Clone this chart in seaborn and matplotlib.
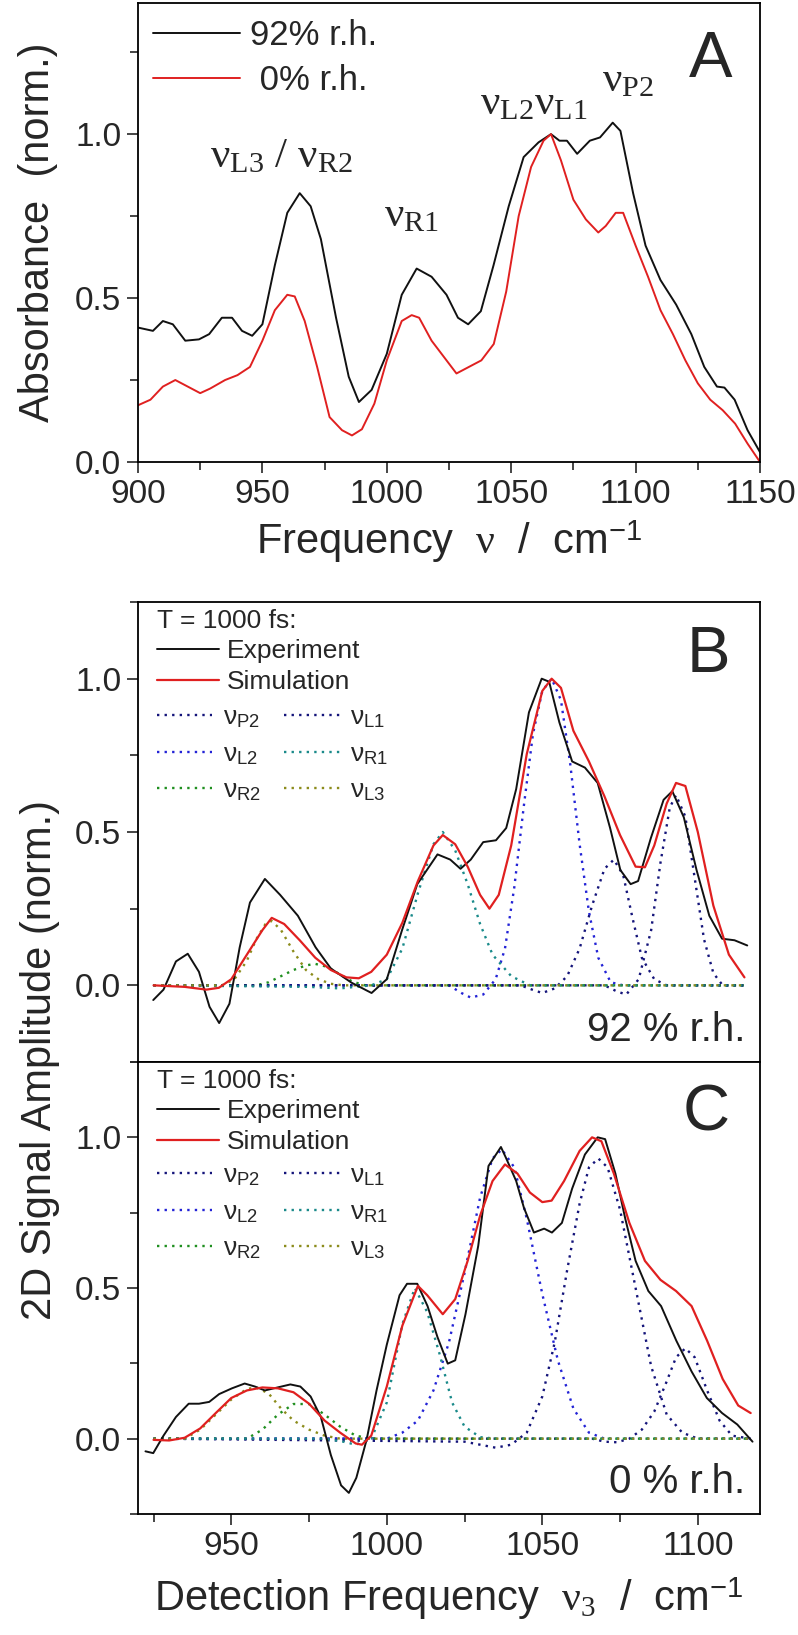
import numpy as np
import pandas as pd
import matplotlib
matplotlib.use('Agg')
import matplotlib.pyplot as plt
import seaborn as sns
from matplotlib.font_manager import FontProperties
from matplotlib.ticker import MultipleLocator

# ---------------- data: panel A (FTIR absorbance) ----------------
a_x_92 = [900, 906, 910, 914, 919, 924.5, 928.6, 933.7, 937.8, 941.8, 945.9, 950, 955, 960,
          965, 969.4, 973.5, 979.6, 984.7, 988.8, 993.9, 1000, 1006, 1012, 1018, 1024,
          1028.6, 1032.7, 1037.8, 1042.9, 1049, 1055, 1061, 1066, 1069.4, 1072.4, 1076.5,
          1081.6, 1085.7, 1090.8, 1093.9, 1099, 1104, 1110, 1116.3, 1122.4, 1127.6, 1132.7,
          1135.7, 1139.8, 1145, 1150]
a_y_92 = [0.41, 0.40, 0.43, 0.42, 0.37, 0.374, 0.39, 0.44, 0.44, 0.40, 0.385, 0.42, 0.60, 0.76,
          0.82, 0.78, 0.68, 0.44, 0.26, 0.183, 0.22, 0.33, 0.51, 0.59, 0.565, 0.51,
          0.44, 0.42, 0.46, 0.60, 0.78, 0.93, 0.975, 1.0, 0.98, 0.98, 0.94,
          0.98, 0.99, 1.035, 1.01, 0.82, 0.66, 0.555, 0.48, 0.39, 0.29, 0.23,
          0.227, 0.19, 0.097, 0.03]
a_x_0 = [900, 905, 910, 915, 920, 925, 929, 935, 940, 945, 950, 955, 960, 963, 967, 972, 977,
         982, 986, 990, 995, 1000, 1006, 1010, 1013, 1018, 1024, 1028, 1033, 1038, 1043,
         1048, 1053, 1058, 1063, 1066, 1070, 1075, 1080, 1085, 1088, 1092, 1095, 1100,
         1105, 1110, 1115, 1120, 1125, 1130, 1135, 1140, 1145, 1150]
a_y_0 = [0.173, 0.19, 0.23, 0.25, 0.23, 0.21, 0.224, 0.25, 0.265, 0.29, 0.37, 0.463, 0.51, 0.505,
         0.43, 0.29, 0.137, 0.097, 0.081, 0.10, 0.178, 0.31, 0.43, 0.448, 0.44, 0.37, 0.31,
         0.27, 0.29, 0.31, 0.36, 0.52, 0.75, 0.90, 0.98, 1.0, 0.92, 0.80, 0.74, 0.70, 0.72,
         0.76, 0.76, 0.66, 0.565, 0.463, 0.39, 0.31, 0.24, 0.19, 0.158, 0.117, 0.056, 0.0]

# ---------------- data: panel B (92 % r.h., T = 1000 fs) ----------------
b_x_exp = [924.9, 928.2, 932.2, 936, 939.6, 943, 946.1, 949.4, 952.7, 956, 960.8, 965.7, 971.4,
           977.1, 982, 988.6, 995.1, 1000, 1004.9, 1009.8, 1016.3, 1020.4, 1023.7, 1027, 1031,
           1035.1, 1038.4, 1041.6, 1045.7, 1049.8, 1052.2, 1055.5, 1059.6, 1063.7, 1067.8,
           1071.8, 1075.1, 1078.4, 1080.8, 1084.9, 1089, 1091.8, 1095.5, 1099.6, 1103.7,
           1107.8, 1111.8, 1115.9]
b_y_exp = [-0.048, -0.014, 0.078, 0.103, 0.044, -0.07, -0.123, -0.06, 0.124, 0.27, 0.347, 0.295,
           0.227, 0.124, 0.055, 0.009, -0.025, 0.02, 0.18, 0.33, 0.427, 0.41, 0.38, 0.41, 0.467,
           0.473, 0.513, 0.64, 0.89, 1.0, 0.99, 0.857, 0.73, 0.71, 0.66, 0.513, 0.376, 0.33,
           0.34, 0.48, 0.605, 0.633, 0.548, 0.376, 0.227, 0.152, 0.147, 0.13]
b_x_sim = [925, 935, 942, 946, 950, 955, 960, 963, 967, 972, 977, 982, 987, 991, 995, 1000, 1005,
           1010, 1015, 1018, 1022, 1026, 1030, 1033, 1036, 1040, 1045, 1050, 1053, 1056, 1060,
           1065, 1070, 1075, 1080, 1083, 1086, 1090, 1093, 1096, 1100, 1105, 1110, 1115]
b_y_sim = [0.0, -0.005, -0.014, -0.008, 0.02, 0.10, 0.18, 0.22, 0.20, 0.147, 0.09, 0.05, 0.026,
           0.023, 0.044, 0.10, 0.204, 0.34, 0.456, 0.49, 0.46, 0.387, 0.295, 0.25, 0.295,
           0.456, 0.754, 0.96, 1.0, 0.97, 0.83, 0.73, 0.616, 0.49, 0.387, 0.385, 0.456, 0.593,
           0.66, 0.65, 0.50, 0.26, 0.10, 0.026]
b_x_p2 = [925, 1070, 1074, 1077, 1081, 1085, 1088, 1091, 1093, 1096, 1099, 1102, 1105, 1108, 1115]
b_y_p2 = [0.0, 0.0, -0.02, -0.03, 0.02, 0.18, 0.40, 0.58, 0.62, 0.55, 0.35, 0.15, 0.04, 0.0, 0.0]
b_x_l1 = [925, 1043, 1047, 1050, 1054, 1058, 1062, 1066, 1070, 1073, 1076, 1079, 1082, 1086, 1090, 1115]
b_y_l1 = [0.0, 0.0, -0.015, -0.025, -0.01, 0.03, 0.12, 0.26, 0.38, 0.41, 0.36, 0.22, 0.09, 0.02, 0.0, 0.0]
b_x_l2 = [925, 1020, 1024, 1027, 1031, 1035, 1038, 1041, 1044, 1047, 1050, 1053, 1056, 1059,
          1062, 1065, 1068, 1072, 1076, 1115]
b_y_l2 = [0.0, 0.0, -0.025, -0.04, -0.03, 0.02, 0.12, 0.32, 0.58, 0.82, 0.96, 1.0, 0.93, 0.72,
          0.46, 0.24, 0.09, 0.01, 0.0, 0.0]
b_x_r1 = [925, 975, 985, 995, 1000, 1005, 1010, 1015, 1018, 1022, 1026, 1030, 1034, 1040, 1046, 1115]
b_y_r1 = [0.0, -0.005, -0.01, 0.0, 0.02, 0.12, 0.30, 0.46, 0.50, 0.44, 0.33, 0.20, 0.10, 0.03, 0.0, 0.0]
b_x_r2 = [925, 958, 962, 966, 970, 974, 977, 981, 985, 989, 993, 1115]
b_y_r2 = [0.0, 0.0, 0.01, 0.03, 0.05, 0.065, 0.07, 0.06, 0.035, 0.012, 0.0, 0.0]
b_x_l3 = [925, 947, 951, 955, 958, 961, 963, 966, 970, 974, 978, 982, 986, 1115]
b_y_l3 = [0.0, 0.0, 0.02, 0.08, 0.15, 0.20, 0.21, 0.18, 0.11, 0.05, 0.02, 0.005, 0.0, 0.0]

# ---------------- data: panel C (0 % r.h., T = 1000 fs) ----------------
c_x_exp = [922.4, 924.9, 928.2, 932.2, 936.3, 939.6, 942.9, 946.1, 950.2, 954.3, 957.6, 960.8,
           964.9, 969, 972.2, 975.5, 978.8, 982, 985.3, 987.8, 990.2, 993.5, 996.7, 1000,
           1004.1, 1006.5, 1009.8, 1013.1, 1016.3, 1019.6, 1022, 1025.3, 1029.4, 1032.7,
           1036.7, 1038.4, 1041.6, 1044.1, 1047.3, 1050.6, 1053.1, 1056.3, 1059.6, 1063.7,
           1067.8, 1070.2, 1073.5, 1076.7, 1080, 1084.1, 1088.2, 1093.1, 1098, 1102.9,
           1107.8, 1112.7, 1117.6]
c_y_exp = [-0.042, -0.048, 0.01, 0.072, 0.116, 0.116, 0.122, 0.148, 0.167, 0.183, 0.173, 0.16,
           0.17, 0.18, 0.173, 0.14, 0.072, -0.054, -0.155, -0.18, -0.13, -0.004, 0.16, 0.312,
           0.476, 0.514, 0.514, 0.44, 0.337, 0.249, 0.26, 0.413, 0.64, 0.905, 0.968, 0.93,
           0.855, 0.766, 0.684, 0.697, 0.684, 0.716, 0.83, 0.943, 1.0, 0.994, 0.88, 0.729,
           0.59, 0.49, 0.44, 0.325, 0.223, 0.135, 0.085, 0.047, -0.01]
c_x_sim = [925, 930, 935, 940, 945, 950, 955, 960, 965, 970, 975, 980, 985, 990, 992, 995, 1000,
           1005, 1010, 1013, 1018, 1022, 1026, 1030, 1034, 1038, 1042, 1046, 1050, 1053, 1057,
           1062, 1066, 1069, 1073, 1078, 1083, 1088, 1093, 1098, 1103, 1108, 1113, 1117]
c_y_sim = [-0.004, -0.006, 0.003, 0.034, 0.085, 0.135, 0.16, 0.17, 0.167, 0.154, 0.116, 0.06,
           0.02, -0.016, -0.02, 0.01, 0.173, 0.375, 0.507, 0.476, 0.413, 0.463, 0.59, 0.74,
           0.855, 0.91, 0.88, 0.817, 0.785, 0.79, 0.855, 0.955, 1.0, 0.987, 0.88, 0.716, 0.59,
           0.527, 0.49, 0.44, 0.325, 0.198, 0.11, 0.085]
c_x_p2 = [925, 1066, 1070, 1074, 1078, 1082, 1086, 1090, 1093, 1096, 1099, 1103, 1107, 1111, 1117]
c_y_p2 = [0.0, 0.0, -0.01, -0.012, 0.0, 0.03, 0.09, 0.19, 0.27, 0.30, 0.27, 0.16, 0.06, 0.01, 0.0]
c_x_l1 = [925, 1025, 1030, 1035, 1040, 1045, 1050, 1054, 1058, 1062, 1065, 1068, 1071, 1075,
          1080, 1085, 1090, 1095, 1100, 1117]
c_y_l1 = [0.0, -0.01, -0.02, -0.03, -0.02, 0.02, 0.14, 0.32, 0.56, 0.78, 0.9, 0.93, 0.9, 0.76,
          0.5, 0.24, 0.08, 0.02, 0.0, 0.0]
c_x_l2 = [925, 1000, 1005, 1010, 1015, 1020, 1025, 1030, 1034, 1037, 1041, 1045, 1050, 1055,
          1060, 1065, 1070, 1117]
c_y_l2 = [0.0, 0.0, 0.02, 0.06, 0.16, 0.32, 0.55, 0.8, 0.93, 0.96, 0.9, 0.73, 0.48, 0.26, 0.1,
          0.02, 0.0, 0.0]
c_x_r1 = [925, 980, 986, 990, 995, 1000, 1005, 1009, 1013, 1017, 1021, 1025, 1030, 1035, 1117]
c_y_r1 = [0.0, 0.0, -0.01, -0.02, 0.0, 0.12, 0.38, 0.50, 0.42, 0.28, 0.12, 0.04, 0.005, 0.0, 0.0]
c_x_r2 = [925, 955, 960, 965, 970, 975, 980, 985, 990, 995, 1117]
c_y_r2 = [0.0, 0.0, 0.03, 0.08, 0.115, 0.115, 0.08, 0.04, 0.01, 0.0, 0.0]
c_x_l3 = [925, 935, 940, 945, 950, 955, 958, 962, 966, 970, 975, 980, 985, 1117]
c_y_l3 = [0.0, 0.0, 0.03, 0.08, 0.13, 0.165, 0.17, 0.15, 0.10, 0.06, 0.03, 0.01, 0.0, 0.0]

comp_names = ['P2', 'L2', 'R2', 'L1', 'R1', 'L3']
comp_colors = {'P2': '#14147a', 'L1': '#14147a', 'L2': '#2323d6',
               'R1': '#1a8a8a', 'R2': '#1f8f1f', 'L3': '#8c8c1c'}

BLACK = '#111111'
RED = '#e02020'

sns.set_style('ticks')
plt.rcParams['font.family'] = ['Liberation Sans', 'DejaVu Sans']
plt.rcParams['axes.linewidth'] = 1.3
# serif upright nu inside the sans axis labels
plt.rcParams['mathtext.fontset'] = 'custom'
plt.rcParams['mathtext.rm'] = 'Liberation Serif'
plt.rcParams['mathtext.it'] = 'Liberation Serif:italic'
plt.rcParams['mathtext.default'] = 'rm'

fig = plt.figure(figsize=(7.98, 16.35), dpi=100)
L, W = 138 / 798, 622 / 798
axA = fig.add_axes([L, 1 - 462 / 1635, W, 459 / 1635])
axB = fig.add_axes([L, 1 - 1062 / 1635, W, 460 / 1635])
axC = fig.add_axes([L, 1 - 1514 / 1635, W, 452 / 1635])

TICK = 24
LEG = FontProperties(family='Liberation Sans', size=19)


def line(ax, x, y, color, lw=1.4, ls='-', label=None):
    df = pd.DataFrame({'x': x, 'y': y})
    sns.lineplot(data=df, x='x', y='y', ax=ax, color=color, linewidth=lw,
                 linestyle=ls, estimator=None, sort=False, legend=False)
    ln = ax.lines[-1]
    if label is not None:
        ln.set_label(label)
    return ln


def style_axis(ax):
    for s in ax.spines.values():
        s.set_visible(True)
        s.set_linewidth(1.3)
        s.set_color('black')
    ax.tick_params(which='both', direction='out', width=1.2, labelsize=TICK,
                   top=False, right=False, pad=4)
    ax.tick_params(which='major', length=8)
    ax.tick_params(which='minor', length=6)
    ax.set_xlabel('')
    ax.set_ylabel('')


# ---------------- panel A ----------------
hA1 = line(axA, a_x_92, a_y_92, BLACK, label='92% r.h.')
hA2 = line(axA, a_x_0, a_y_0, RED, label=' 0% r.h.')
axA.set_xlim(900, 1150)
axA.set_ylim(0, 1.4)
axA.xaxis.set_major_locator(MultipleLocator(50))
axA.xaxis.set_minor_locator(MultipleLocator(25))
axA.yaxis.set_major_locator(MultipleLocator(0.5))
axA.yaxis.set_minor_locator(MultipleLocator(0.25))
style_axis(axA)
axA.set_yticks([0, 0.5, 1.0], ['0.0', '0.5', '1.0'])
axA.legend(handles=[hA1, hA2], loc='upper left', bbox_to_anchor=(0.024, 0.965),
           frameon=False, fontsize=25, handlelength=2.5, handletextpad=0.3,
           labelspacing=0.35, borderaxespad=0, borderpad=0)
axA.text(0.955, 0.875, 'A', transform=axA.transAxes, fontsize=47, ha='right', va='center')
pk = dict(fontsize=31, ha='center', va='baseline', family='Liberation Serif')
axA.text(957.5, 0.90, 'ν$_{\\mathregular{L3}}$ / ν$_{\\mathregular{R2}}$', **pk)
axA.text(1010, 0.72, 'ν$_{\\mathregular{R1}}$', **pk)
axA.text(1059, 1.06, 'ν$_{\\mathregular{L2}}$ν$_{\\mathregular{L1}}$', **pk)
axA.text(1097, 1.13, 'ν$_{\\mathregular{P2}}$', **pk)
axA.set_xlabel('Frequency  $\\mathrm{ν}$  /  cm$^{\\mathregular{-1}}$', fontsize=30,
               labelpad=6)
axA.set_ylabel('Absorbance  (norm.)', fontsize=30, labelpad=12)


# ---------------- panels B / C ----------------
def panel(ax, xe, ye, xs, ys, comps, tag, rh):
    handles = {}
    for name in comp_names:
        cx, cy = comps[name]
        handles[name] = line(ax, cx, cy, comp_colors[name], lw=1.7, ls=(0, (1.0, 2.2)),
                             label='$\\mathregular{ν}_{\\mathregular{%s}}$' % name)
    he = line(ax, xe, ye, BLACK, lw=1.4, label='Experiment')
    hs = line(ax, xs, ys, RED, lw=1.6, label='Simulation')
    ax.set_xlim(920, 1120)
    ax.set_ylim(-0.25, 1.25)
    ax.yaxis.set_major_locator(MultipleLocator(0.5))
    ax.yaxis.set_minor_locator(MultipleLocator(0.25))
    style_axis(ax)
    ax.set_yticks([0, 0.5, 1.0], ['0.0', '0.5', '1.0'])
    leg1 = ax.legend(handles=[he, hs], loc='upper left', bbox_to_anchor=(0.03, 0.985),
                     frameon=False, prop=LEG, title='T = 1000 fs:', title_fontproperties=LEG,
                     alignment='left', handlelength=2.35, handletextpad=0.3,
                     labelspacing=0.25, borderaxespad=0, borderpad=0)
    ax.add_artist(leg1)
    ax.legend(handles=[handles[n] for n in comp_names], loc='upper left',
              bbox_to_anchor=(0.03, 0.775), ncol=2, frameon=False, prop=LEG,
              handlelength=2.1, handletextpad=0.4, columnspacing=0.9,
              labelspacing=0.45, borderaxespad=0, borderpad=0)
    ax.text(0.952, 0.885, tag, transform=ax.transAxes, fontsize=47, ha='right', va='center')
    ax.text(0.976, 0.07, rh, transform=ax.transAxes, fontsize=29, ha='right', va='center')


panel(axB, b_x_exp, b_y_exp, b_x_sim, b_y_sim,
      {'P2': (b_x_p2, b_y_p2), 'L1': (b_x_l1, b_y_l1), 'L2': (b_x_l2, b_y_l2),
       'R1': (b_x_r1, b_y_r1), 'R2': (b_x_r2, b_y_r2), 'L3': (b_x_l3, b_y_l3)},
      'B', '92 % r.h.')
panel(axC, c_x_exp, c_y_exp, c_x_sim, c_y_sim,
      {'P2': (c_x_p2, c_y_p2), 'L1': (c_x_l1, c_y_l1), 'L2': (c_x_l2, c_y_l2),
       'R1': (c_x_r1, c_y_r1), 'R2': (c_x_r2, c_y_r2), 'L3': (c_x_l3, c_y_l3)},
      'C', '0 % r.h.')

# B's bottom ticks hang down into panel C, no labels
axB.set_xticks(np.arange(940, 1101, 20))
axB.xaxis.set_minor_locator(plt.NullLocator())
axB.tick_params(axis='x', labelbottom=False, direction='out', length=8)
axC.xaxis.set_major_locator(MultipleLocator(50))
axC.xaxis.set_minor_locator(MultipleLocator(25))
axC.set_xlabel('Detection Frequency  $\\mathrm{ν}_{3}$  /  cm$^{\\mathregular{-1}}$',
               fontsize=30, labelpad=10)

fig.text(40 / 798, 1 - 1060 / 1635, '2D Signal Amplitude (norm.)', rotation=90,
         fontsize=30, ha='center', va='center')

fig.savefig('out.png', dpi=100)
